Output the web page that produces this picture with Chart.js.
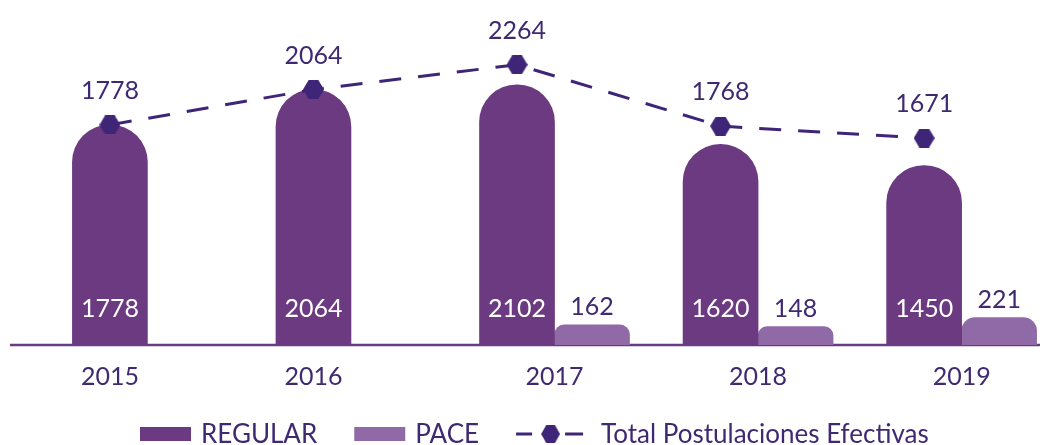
<!DOCTYPE html>
<html>
<head>
<meta charset="utf-8">
<script src="https://cdn.jsdelivr.net/npm/chart.js@4.4.0/dist/chart.umd.min.js"></script>
<style>
  html, body { margin: 0; padding: 0; background: #fff; overflow: hidden; }
  #wrap { width: 1047px; height: 445px; }
</style>
</head>
<body>
<div id="wrap"><canvas id="chart"></canvas></div>
<script>
// datos
const years = ['2015', '2016', '2017', '2018', '2019'];
const regular = [1778, 2064, 2102, 1620, 1450];
const pace = [null, null, 162, 148, 221];
const totals = [1778, 2064, 2264, 1768, 1671];
const legendLabels = ['REGULAR', 'PACE', 'Total Postulaciones Efectivas'];

const REG_COLOR = '#6b3a80';
const PACE_COLOR = '#8f6aa6';
const LINE_COLOR = '#3f2577';
const TEXT_COLOR = '#3f2a72';
const FONT = 'Lato, "Open Sans", sans-serif';

// marcador hexagonal
function hexagon(w, h, color) {
    const c = document.createElement('canvas');
    c.width = w;
    c.height = h;
    const g = c.getContext('2d');
    g.fillStyle = color;
    g.beginPath();
    g.moveTo(0, h / 2);
    g.lineTo(w * 0.27, 0);
    g.lineTo(w * 0.73, 0);
    g.lineTo(w, h / 2);
    g.lineTo(w * 0.73, h);
    g.lineTo(w * 0.27, h);
    g.closePath();
    g.fill();
    return c;
}
const hexMarker = hexagon(21, 19, LINE_COLOR);

// el punto de la linea va sobre la barra REGULAR, y las etiquetas de abajo
const overlayPlugin = {
    id: 'overlay',
    afterDatasetsUpdate(chart) {
        const reg = chart.getDatasetMeta(0).data;
        chart.getDatasetMeta(2).data.forEach((pt, i) => { pt.x = reg[i].x; });
    },
    beforeDatasetsDraw(chart) {
        const ctx = chart.ctx;
        const y0 = chart.scales.y.getPixelForValue(0);
        ctx.save();
        ctx.strokeStyle = REG_COLOR;
        ctx.lineWidth = 2.5;
        ctx.beginPath();
        ctx.moveTo(chart.chartArea.left, y0);
        ctx.lineTo(chart.chartArea.right, y0);
        ctx.stroke();
        ctx.restore();
    },
    afterDraw(chart) {
        const ctx = chart.ctx;
        const y0 = chart.scales.y.getPixelForValue(0);
        const reg = chart.getDatasetMeta(0).data;
        const pc = chart.getDatasetMeta(1).data;
        const pts = chart.getDatasetMeta(2).data;
        ctx.save();
        ctx.textAlign = 'center';
        ctx.textBaseline = 'middle';
        ctx.font = '25px ' + FONT;

        years.forEach((yr, i) => {
            // valores dentro de las barras
            ctx.fillStyle = '#ffffff';
            ctx.fillText(String(regular[i]), reg[i].x, y0 - 36);
            // PACE
            let cx = reg[i].x;
            if (pace[i] !== null) {
                ctx.fillStyle = TEXT_COLOR;
                ctx.fillText(String(pace[i]), pc[i].x, pc[i].y - 18);
                cx = (reg[i].x + pc[i].x) / 2;
            }
            // totales
            ctx.fillStyle = TEXT_COLOR;
            ctx.fillText(String(totals[i]), pts[i].x, pts[i].y - 34);
            // años
            ctx.fillText(yr, cx, y0 + 32);
        });

        // leyenda
        const ly = 434;
        ctx.font = '26px ' + FONT;
        ctx.textAlign = 'left';
        let x = 140;
        [REG_COLOR, PACE_COLOR].forEach((col, k) => {
            ctx.fillStyle = col;
            ctx.fillRect(x, ly - 7, 51, 14);
            x += 51 + 10;
            ctx.fillStyle = TEXT_COLOR;
            ctx.fillText(legendLabels[k], x, ly + 1);
            x += ctx.measureText(legendLabels[k]).width + 37;
        });
        ctx.strokeStyle = LINE_COLOR;
        ctx.lineWidth = 3;
        ctx.beginPath();
        ctx.moveTo(x, ly); ctx.lineTo(x + 16, ly);
        ctx.moveTo(x + 49, ly); ctx.lineTo(x + 67, ly);
        ctx.stroke();
        ctx.drawImage(hexMarker, x + 25, ly - 9, 19, 18);
        ctx.fillStyle = TEXT_COLOR;
        ctx.fillText(legendLabels[2], x + 85, ly + 1);
        ctx.restore();
    }
};

const ctx = document.getElementById('chart').getContext('2d');

new Chart(ctx, {
    data: {
        datasets: [{
            type: 'bar',
            label: legendLabels[0],
            data: regular.map((v, i) => ({ x: i, y: v })),
            backgroundColor: REG_COLOR,
            borderSkipped: 'bottom',
            borderRadius: { topLeft: 40, topRight: 40 },
            barThickness: 75,
            order: 1
        }, {
            type: 'bar',
            label: legendLabels[1],
            data: pace.map((v, i) => ({ x: i, y: v })),
            backgroundColor: PACE_COLOR,
            borderSkipped: 'bottom',
            borderRadius: { topLeft: 40, topRight: 40 },
            barThickness: 75,
            order: 1
        }, {
            type: 'line',
            label: legendLabels[2],
            data: totals.map((v, i) => ({ x: i, y: v })),
            borderColor: LINE_COLOR,
            borderWidth: 3,
            borderDash: [22, 17],
            pointStyle: hexMarker,
            tension: 0,
            fill: false,
            order: 0
        }]
    },
    options: {
        responsive: true,
        maintainAspectRatio: false,
        animation: false,
        events: [],
        layout: { padding: { left: 10, right: 0, top: 0, bottom: 100 } },
        plugins: {
            legend: { display: false },
            tooltip: { enabled: false }
        },
        scales: {
            x: {
                type: 'linear',
                offset: false,
                min: -0.675,
                max: 4.385,
                display: false
            },
            y: {
                min: 0,
                max: 2730,
                display: false
            }
        }
    },
    plugins: [overlayPlugin]
});
</script>
</body>
</html>
